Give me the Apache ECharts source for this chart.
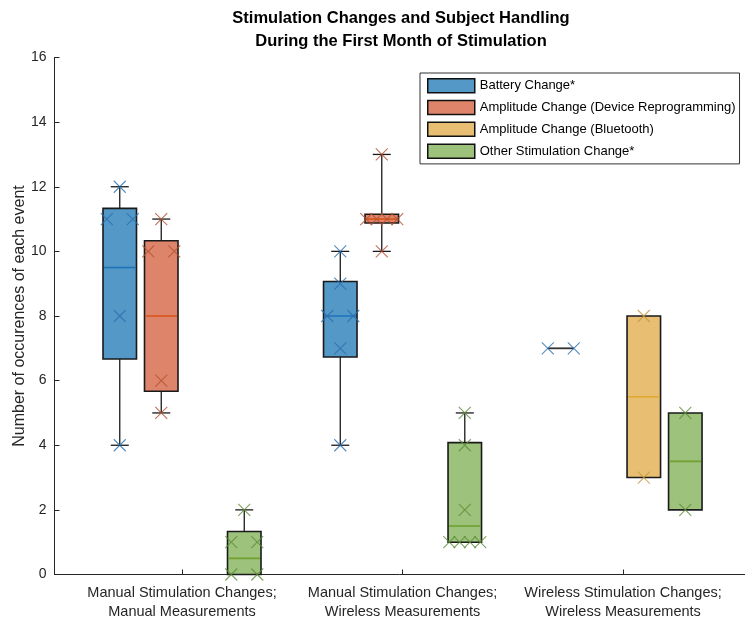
<!DOCTYPE html>
<html>
<head>
<meta charset="utf-8">
<script src="https://cdn.jsdelivr.net/npm/echarts@6/dist/echarts.min.js"></script>
<style>html,body{margin:0;padding:0;background:#fff}#c{width:745px;height:622px}</style>
</head>
<body>
<div id="c"></div>
<script>
// ---- data ----
const categories = [
  'Manual Stimulation Changes;\nManual Measurements',
  'Manual Stimulation Changes;\nWireless Measurements',
  'Wireless Stimulation Changes;\nWireless Measurements'
];
const groupPos = [1, 2, 3];
const seriesNames = [
  'Battery Change*',
  'Amplitude Change (Device Reprogramming)',
  'Amplitude Change (Bluetooth)',
  'Other Stimulation Change*'
];
// box stats per group: [min, q1, median, q3, max] (null = no box)
const batteryStats = [[4, 6.67, 9.5, 11.33, 12], [4, 6.73, 8, 9.07, 10], [7, 7, 7, 7, 7]];
const ampDeviceStats = [[5, 5.67, 8, 10.33, 11], [10, 10.88, 11, 11.15, 13], null];
const ampBluetoothStats = [null, null, [3, 3, 5.5, 8, 8]];
const otherStats = [[0, 0, 0.5, 1.33, 2], [1, 1, 1.5, 4.08, 5], [2, 2, 3.5, 5, 5]];
// individual observations per group
const batteryPoints = [[12, 11, 11, 8, 4], [10, 9, 8, 8, 7, 4], [7, 7]];
const ampDevicePoints = [[11, 10, 10, 6, 5], [13, 11, 11, 11, 11, 10], []];
const ampBluetoothPoints = [[], [], [8, 3]];
const otherPoints = [[2, 1, 1, 0, 0], [5, 4, 2, 1, 1, 1, 1], [5, 2]];
const yTicks = [0, 2, 4, 6, 8, 10, 12, 14, 16];

// ---- styles ----
const fills = ['#5398C7', '#DE846B', '#E8BF72', '#9CC27B'];
const medColors = ['#1F72B8', '#D95319', '#E0A830', '#6FA030'];
const markColors = ['#2A6FAE', '#B4502F', '#C4963F', '#5E8C3A'];
const offsets = [-0.2823, -0.0941, 0.0941, 0.2823];
const PX_PER_UNIT = 220.5;
const BOX_HALF = 16.75;
const CAP_HALF = 9;

const allStats = [batteryStats, ampDeviceStats, ampBluetoothStats, otherStats];
const allPoints = [batteryPoints, ampDevicePoints, ampBluetoothPoints, otherPoints];

function renderBox(si) {
  return function (params, api) {
    const gx = api.value(0) + offsets[si];
    const mn = api.value(1), q1 = api.value(2), md = api.value(3), q3 = api.value(4), mx = api.value(5);
    const pMd = api.coord([gx, md]);
    const pQ1 = api.coord([gx, q1]);
    const pQ3 = api.coord([gx, q3]);
    const pMn = api.coord([gx, mn]);
    const pMx = api.coord([gx, mx]);
    const x = pMd[0];
    const ch = [];
    const wl = { stroke: '#1a1a1a', lineWidth: 1.3 };
    if (mx > q3) {
      ch.push({ type: 'line', shape: { x1: x, y1: pQ3[1], x2: x, y2: pMx[1] }, style: wl });
      ch.push({ type: 'line', shape: { x1: x - CAP_HALF, y1: pMx[1], x2: x + CAP_HALF, y2: pMx[1] }, style: wl });
    }
    if (mn < q1) {
      ch.push({ type: 'line', shape: { x1: x, y1: pQ1[1], x2: x, y2: pMn[1] }, style: wl });
      ch.push({ type: 'line', shape: { x1: x - CAP_HALF, y1: pMn[1], x2: x + CAP_HALF, y2: pMn[1] }, style: wl });
    }
    if (q3 > q1) {
      ch.push({ type: 'rect', shape: { x: x - BOX_HALF, y: pQ3[1], width: 2 * BOX_HALF, height: pQ1[1] - pQ3[1] },
        style: { fill: fills[si], stroke: '#1a1a1a', lineWidth: 1.6 } });
      ch.push({ type: 'line', shape: { x1: x - BOX_HALF + 1, y1: pMd[1], x2: x + BOX_HALF - 1, y2: pMd[1] },
        style: { stroke: medColors[si], lineWidth: 1.6 } });
    } else {
      ch.push({ type: 'line', shape: { x1: x - 13, y1: pMd[1], x2: x + 13, y2: pMd[1] },
        style: { stroke: '#333', lineWidth: 1.8 } });
    }
    return { type: 'group', children: ch };
  };
}

function jitterPoints(si) {
  const out = [];
  allPoints[si].forEach(function (vals, gi) {
    const counts = {};
    vals.forEach(function (v) { counts[v] = (counts[v] || 0) + 1; });
    const seen = {};
    vals.forEach(function (v) {
      const n = counts[v];
      const k = seen[v] || 0; seen[v] = k + 1;
      let px = 0;
      if (n > 1) {
        const half = n > 2 ? 15.5 : 13;
        px = -half + (2 * half) * k / (n - 1);
      }
      out.push([groupPos[gi] + offsets[si] + px / PX_PER_UNIT, v]);
    });
  });
  return out;
}

const series = [];
allStats.forEach(function (st, si) {
  const data = [];
  st.forEach(function (s, gi) { if (s) data.push([groupPos[gi]].concat(s)); });
  series.push({
    type: 'custom', name: seriesNames[si], renderItem: renderBox(si),
    itemStyle: { color: fills[si] },
    encode: { x: 0, y: [1, 2, 3, 4, 5] }, data: data, z: 2
  });
});
allPoints.forEach(function (p, si) {
  series.push({
    type: 'scatter', name: seriesNames[si] + ' obs', data: jitterPoints(si),
    symbol: 'path://M0,0L10,10M10,0L0,10', symbolSize: 12,
    itemStyle: { color: 'transparent', borderColor: markColors[si], borderWidth: 1.1 },
    z: 5, silent: true
  });
});

const chart = echarts.init(document.getElementById('c'), null, { renderer: 'canvas' });
chart.setOption({
  animation: false,
  backgroundColor: '#fff',
  textStyle: { fontFamily: 'Liberation Sans, Arial, sans-serif' },
  graphic: [{
    type: 'text', x: 401, y: 7,
    style: {
      text: 'Stimulation Changes and Subject Handling\nDuring the First Month of Stimulation',
      textAlign: 'center', fill: '#000', fontWeight: 'bold', fontSize: 16.5, lineHeight: 23,
      fontFamily: 'Liberation Sans, Arial, sans-serif'
    }
  }],
  legend: {
    data: seriesNames, orient: 'vertical', left: 420, top: 73,
    icon: 'rect', itemWidth: 47, itemHeight: 14, itemGap: 6.3,
    padding: [5, 4, 5, 7],
    borderColor: '#333', borderWidth: 1, backgroundColor: '#fff',
    itemStyle: { borderColor: '#111', borderWidth: 1.5 },
    textStyle: { fontSize: 13, color: '#000', width: 258, overflow: 'truncate', ellipsis: '' },
    selectedMode: false
  },
  grid: { left: 54.5, right: 0, top: 57.5, bottom: 47.5, containLabel: false, outerBoundsMode: 'none' },
  xAxis: {
    type: 'value', min: 0.4218, max: 3.553,
    splitLine: { show: false },
    axisLine: { lineStyle: { color: '#262626', width: 1 } },
    axisTick: { show: true, inside: true, length: 5, customValues: groupPos, lineStyle: { color: '#262626' } },
    axisLabel: {
      customValues: groupPos, color: '#262626', fontSize: 14.5, lineHeight: 19, margin: 9,
      formatter: function (v) { const i = groupPos.indexOf(v); return i >= 0 ? categories[i] : ''; }
    }
  },
  yAxis: {
    type: 'value', min: 0, max: 16, interval: 2,
    name: 'Number of occurences of each event', nameLocation: 'middle', nameGap: 27,
    nameMoveOverlap: false,
    nameTextStyle: { fontSize: 16, color: '#262626' },
    splitLine: { show: false },
    axisLine: { show: true, lineStyle: { color: '#262626', width: 1 } },
    axisTick: { show: true, inside: true, length: 5, lineStyle: { color: '#262626' } },
    axisLabel: { color: '#262626', fontSize: 14, margin: 8,
      formatter: function (v) { return yTicks.indexOf(v) >= 0 ? String(v) : ''; } }
  },
  series: series
});
</script>
</body>
</html>
